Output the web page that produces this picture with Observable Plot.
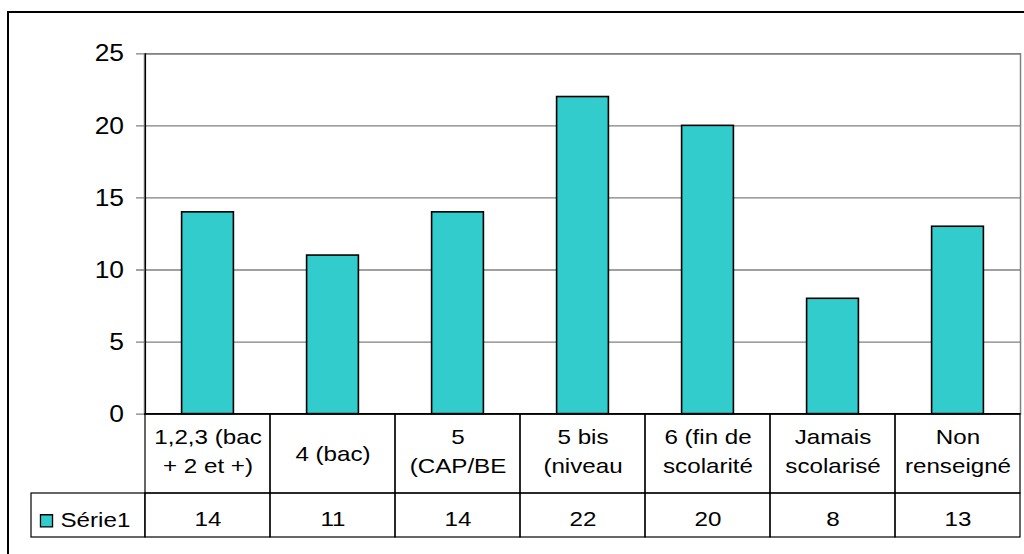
<!DOCTYPE html>
<html><head><meta charset="utf-8">
<script src="https://cdn.jsdelivr.net/npm/d3@7"></script>
<script src="https://cdn.jsdelivr.net/npm/@observablehq/plot@0.6"></script>
<style>
html,body{margin:0;padding:0;background:#fff;}
#wrap{position:relative;width:1024px;height:554px;overflow:hidden;}
#border{position:absolute;left:7px;top:11px;width:2000px;height:2000px;border-top:2.5px solid #000;border-left:2.5px solid #000;pointer-events:none;}
</style></head><body>
<div id="wrap"><div id="chart"></div><div id="border"></div></div>
<script>
// ---- data ----
const categories = ["1,2,3 (bac + 2 et +)", "4 (bac)", "5 (CAP/BE", "5 bis (niveau", "6 (fin de scolarité", "Jamais scolarisé", "Non renseigné"];
const labelLine1 = ["1,2,3 (bac", "4 (bac)", "5", "5 bis", "6 (fin de", "Jamais", "Non"];
const labelLine2 = ["+ 2 et +)", null, "(CAP/BE", "(niveau", "scolarité", "scolarisé", "renseigné"];
const values = [14, 11, 14, 22, 20, 8, 13];
const yTicks = [0, 5, 10, 15, 20, 25];
const seriesName = "Série1";
const barColor = "#33CCCC";

// ---- layout ----
const W = 1024, H = 554, mL = 144, mR = 4, mT = 53.3, mB = 140.4;
const bw = (W - mL - mR) / categories.length;
const row1 = 79.4, row2 = 123.4;
const font = "'Liberation Sans', Arial, sans-serif";

const data = categories.map((c, i) => ({cat: c, value: values[i], l1: labelLine1[i], l2: labelLine2[i]}));
const twoLine = data.filter(d => d.l2);
const oneLine = data.filter(d => !d.l2);

const plot = Plot.plot({
  width: W, height: H,
  marginLeft: mL, marginRight: mR, marginTop: mT, marginBottom: mB,
  style: {fontFamily: font, background: "transparent", color: "#000", overflow: "visible"},
  x: {type: "band", domain: categories, padding: 0, axis: null},
  y: {domain: [0, 25], axis: null},
  marks: [
    Plot.frame({stroke: "#808080", strokeWidth: 1.5}),
    Plot.ruleY(yTicks, {y: d => d, stroke: "#808080", strokeWidth: 1.3, insetLeft: -8}),
    Plot.barY(data, {x: "cat", y: "value", fill: barColor, stroke: "#000", strokeWidth: 1.6, insetLeft: 36.6, insetRight: 36.6}),
    Plot.ruleY([0], {y: d => d, stroke: "#000", strokeWidth: 1.2}),
    Plot.ruleX([categories[0]], {x: d => d, y1: 0, y2: 25, dx: -bw / 2, stroke: "#000", strokeWidth: 1.3}),
    // data table cells
    Plot.barY(data, {x: "cat", y1: 0, y2: 0, insetBottom: -row1, fill: "none", stroke: "#000", strokeWidth: 1.2}),
    Plot.barY(data, {x: "cat", y1: 0, y2: 0, insetTop: row1, insetBottom: -row2, fill: "none", stroke: "#000", strokeWidth: 1.2}),
    Plot.barY([categories[0]], {x: d => d, y1: 0, y2: 0, insetTop: row1, insetBottom: -row2, insetLeft: -(mL - 30), insetRight: bw, fill: "none", stroke: "#000", strokeWidth: 1.2}),
    // category labels
    Plot.text(twoLine, {x: "cat", text: "l1", frameAnchor: "bottom", dy: 30, lineAnchor: "bottom", fontSize: 21, fill: "#000"}),
    Plot.text(twoLine, {x: "cat", text: "l2", frameAnchor: "bottom", dy: 59, lineAnchor: "bottom", fontSize: 21, fill: "#000"}),
    Plot.text(oneLine, {x: "cat", text: "l1", frameAnchor: "bottom", dy: 46.5, lineAnchor: "bottom", fontSize: 21, fill: "#000"}),
    // values row
    Plot.text(data, {x: "cat", text: d => String(d.value), frameAnchor: "bottom", dy: 112, lineAnchor: "bottom", fontSize: 21, fill: "#000"}),
    // legend key in table
    Plot.dot([seriesName], {frameAnchor: "bottom-left", dx: 46 - mL, dy: 520.3 - (H - mB), symbol: "square", r: 6.8, fill: barColor, stroke: "#000", strokeWidth: 1.3}),
    Plot.text([seriesName], {text: d => d, frameAnchor: "bottom-left", dx: 60 - mL, dy: 112.5, textAnchor: "start", lineAnchor: "bottom", fontSize: 21, fill: "#000"}),
    // y tick labels
    Plot.text(yTicks, {y: d => d, text: d => String(d), frameAnchor: "left", dx: -20.5, textAnchor: "end", fontSize: 24, fill: "#000"})
  ]
});
document.getElementById("chart").append(plot);

// horizontal stretch of text to match the reference's wide glyphs
plot.querySelectorAll("text").forEach(t => {
  const fs = parseFloat(getComputedStyle(t).fontSize);
  const k = fs >= 23 ? 1.1 : 1.15;
  const w = t.getComputedTextLength();
  if (w > 0) {
    t.setAttribute("textLength", (w * k).toFixed(2));
    t.setAttribute("lengthAdjust", "spacingAndGlyphs");
  }
});
</script>
</body></html>
